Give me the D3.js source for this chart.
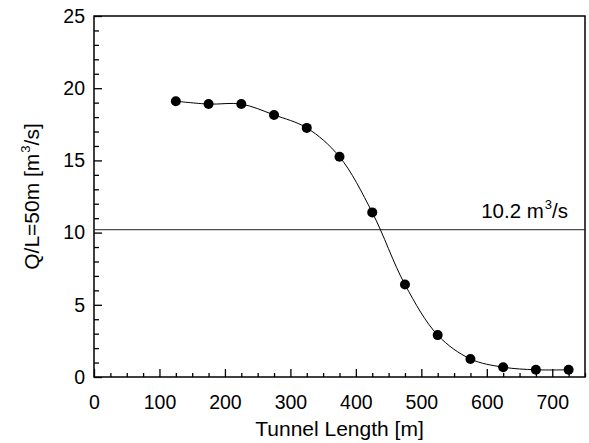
<!DOCTYPE html>
<html lang="en">
<head>
    <meta charset="UTF-8">
    <title></title>
    <script src="https://cdn.jsdelivr.net/npm/d3@7"></script>
    <style>
        body { margin: 0; background: #fff; }
        text { font-family: Arial, "Liberation Sans", sans-serif; fill: #000; }
    </style>
</head>
<body>
<div id="chart"></div>
<script>
    // tunnel length [m] vs flow rate per 50 m
    var lengths = [125, 175, 225, 275, 325, 375, 425, 475, 525, 575, 625, 675, 725];
    var flows = [19.1, 18.9, 18.9, 18.15, 17.25, 15.25, 11.4, 6.4, 2.9, 1.25, 0.68, 0.5, 0.5];
    var xTicks = [0, 100, 200, 300, 400, 500, 600, 700];
    var yTicks = [0, 5, 10, 15, 20, 25];
    var limitValue = 10.2;

    var W = 589, H = 443;
    var mLeft = 94, mRight = 585, mTop = 16, mBottom = 377;

    var svg = d3.select("#chart").append("svg")
            .attr("width", W)
            .attr("height", H);

    var x = d3.scaleLinear().domain([0, 750]).range([mLeft, mRight]);
    var y = d3.scaleLinear().domain([0, 25]).range([mBottom, mTop]);

    // minor ticks first, then major ones with labels
    var xMinor = d3.range(0, 751, 25).filter(function (d) { return d % 100 !== 0; });
    var yMinor = d3.range(0, 26, 1).filter(function (d) { return d % 5 !== 0; });

    svg.append("g")
            .attr("transform", "translate(0," + mBottom + ")")
            .call(d3.axisTop(x).tickValues(xMinor).tickSize(4).tickFormat(""))
            .call(function (g) { g.select(".domain").remove(); });

    var gx = svg.append("g")
            .attr("transform", "translate(0," + mBottom + ")")
            .call(d3.axisTop(x).tickValues(xTicks).tickSize(8).tickFormat(d3.format("d")));
    gx.select(".domain").remove();
    gx.selectAll("text")
            .attr("y", 18)
            .attr("dy", "0.71em")
            .style("font-size", "19.5px")
            .style("font-family", "Arial, 'Liberation Sans', sans-serif");

    svg.append("g")
            .attr("transform", "translate(" + mLeft + ",0)")
            .call(d3.axisRight(y).tickValues(yMinor).tickSize(5).tickFormat(""))
            .call(function (g) { g.select(".domain").remove(); });

    var gy = svg.append("g")
            .attr("transform", "translate(" + mLeft + ",0)")
            .call(d3.axisRight(y).tickValues(yTicks).tickSize(8).tickFormat(d3.format("d")));
    gy.select(".domain").remove();
    gy.selectAll("text")
            .attr("x", -9)
            .attr("text-anchor", "end")
            .style("font-size", "19.5px")
            .style("font-family", "Arial, 'Liberation Sans', sans-serif");

    svg.selectAll(".tick line").attr("stroke", "#000").attr("stroke-width", 1.3);

    // frame
    svg.append("rect")
            .attr("x", mLeft)
            .attr("y", mTop)
            .attr("width", mRight - mLeft)
            .attr("height", mBottom - mTop)
            .attr("fill", "none")
            .attr("stroke", "#000")
            .attr("stroke-width", 1.5);

    // limit line
    svg.append("line")
            .attr("x1", x(0))
            .attr("x2", x(750))
            .attr("y1", y(limitValue))
            .attr("y2", y(limitValue))
            .attr("stroke", "#222")
            .attr("stroke-width", 1);

    var lbl = svg.append("text")
            .attr("x", 568)
            .attr("y", y(limitValue) - 12)
            .attr("text-anchor", "end")
            .style("font-size", "20.5px");
    lbl.append("tspan").text(limitValue + " m");
    lbl.append("tspan").attr("dx", 1).attr("dy", -9).style("font-size", "13px").text("3");
    lbl.append("tspan").attr("dy", 9).text("/s");

    // curve and markers
    var pts = lengths.map(function (d, i) { return [d, flows[i]]; });

    svg.append("path")
            .datum(pts)
            .attr("fill", "none")
            .attr("stroke", "#000")
            .attr("stroke-width", 1)
            .attr("d", d3.line()
                    .x(function (d) { return x(d[0]); })
                    .y(function (d) { return y(d[1]); })
                    .curve(d3.curveCatmullRom.alpha(0.5)));

    svg.selectAll("circle.pt")
            .data(pts)
            .enter().append("circle")
            .attr("class", "pt")
            .attr("cx", function (d) { return x(d[0]); })
            .attr("cy", function (d) { return y(d[1]); })
            .attr("r", 5)
            .attr("fill", "#000");

    // axis titles
    svg.append("text")
            .attr("x", (mLeft + mRight) / 2)
            .attr("y", 436)
            .attr("text-anchor", "middle")
            .style("font-size", "21px")
            .text("Tunnel Length [m]");

    var yt = svg.append("text")
            .attr("transform", "translate(39," + ((mTop + mBottom) / 2) + ") rotate(-90)")
            .attr("text-anchor", "middle")
            .style("font-size", "21px");
    yt.append("tspan").text("Q/L=50m [m");
    yt.append("tspan").attr("dx", 1).attr("dy", -9).style("font-size", "13px").text("3");
    yt.append("tspan").attr("dy", 9).text("/s]");
</script>
</body>
</html>
